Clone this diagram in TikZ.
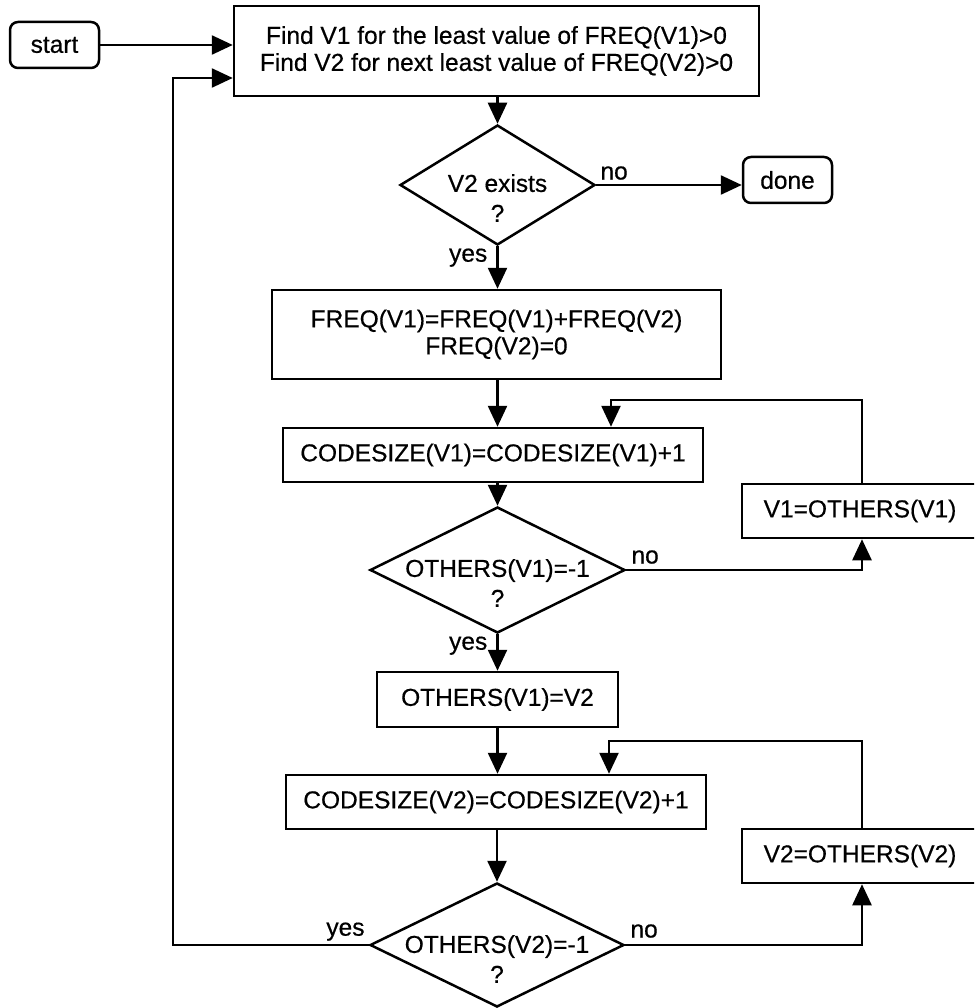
\documentclass[tikz,border=0pt]{standalone}
\usepackage{fontspec}
\setmainfont{Liberation Sans}[FakeBold=0.5]
\usetikzlibrary{arrows.meta,shapes.geometric}
\begin{document}
\begin{tikzpicture}[x=1pt,y=-1pt,
  line width=2.5pt,
  every node/.style={font=\fontsize{24.5}{27}\selectfont},
  box/.style={draw, rectangle, inner sep=0pt, align=center},
  term/.style={draw, rectangle, rounded corners=8pt, inner sep=0pt,
               minimum width=89pt, minimum height=46pt},
  decision/.style={draw, diamond, inner sep=0pt},
  dtext/.style={align=center, inner sep=0pt, font=\fontsize{24.5}{30}\selectfont},
  lbl/.style={inner sep=1pt},
  arr/.style={-{Triangle[length=21pt,width=19pt]}},
]
% page frame
\fill[white] (0,0) rectangle (974,1008);
\useasboundingbox (0,0) rectangle (974,1008);
\clip (0,0) rectangle (974,1008);

% nodes
\node[term] (start) at (54.5,45) {start};
\node[box, minimum width=525pt, minimum height=90pt] (find) at (496.5,51)
  {Find V1 for the least value of FREQ(V1)>0\\Find V2 for next least value of FREQ(V2)>0};
\node[decision, minimum width=195pt, minimum height=120pt] (d1) at (497.5,185) {};
\node[dtext, yshift=-13pt] (d1t) at (d1.center) {V2 exists\\?};
\node[term] (done) at (787.5,180) {done};
\node[box, minimum width=449pt, minimum height=89pt] (freq) at (496.5,334.5)
  {FREQ(V1)=FREQ(V1)+FREQ(V2)\\FREQ(V2)=0};
\node[box, minimum width=420pt, minimum height=54pt] (cs1) at (493,455)
  {CODESIZE(V1)=CODESIZE(V1)+1};
\node[decision, minimum width=255pt, minimum height=126pt] (d2) at (497.5,570) {};
\node[dtext, yshift=-13pt] (d2t) at (d2.center) {OTHERS(V1)=-1\\?};
\node[box, minimum width=236pt, minimum height=54pt] (nx1) at (860,511) {V1=OTHERS(V1)};
\node[box, minimum width=241pt, minimum height=55pt] (ov2) at (497.5,699.5) {OTHERS(V1)=V2};
\node[box, minimum width=420pt, minimum height=54pt] (cs2) at (496,802)
  {CODESIZE(V2)=CODESIZE(V2)+1};
\node[box, minimum width=236pt, minimum height=54pt] (nx2) at (860,856) {V2=OTHERS(V2)};
\node[decision, minimum width=254pt, minimum height=124pt] (d3) at (497,945) {};
\node[dtext, yshift=-14pt] (d3t) at (d3.center) {OTHERS(V2)=-1\\?};

% branch labels
\node[lbl, anchor=south west, xshift=2pt, yshift=3pt] (d1no) at (d1.east) {no};
\node[lbl, anchor=north east, xshift=-8pt] (d1yes) at (d1.south) {yes};
\node[lbl, anchor=south west, xshift=3pt, yshift=4pt] (d2no) at (d2.east) {no};
\node[lbl, anchor=north east, xshift=-8pt] (d2yes) at (d2.south) {yes};
\node[lbl, anchor=south west, xshift=3pt, yshift=5pt] (d3no) at (d3.east) {no};
\node[lbl, anchor=south east, xshift=-2pt, yshift=2pt] (d3yes) at (d3.west) {yes};

% bend points of the loops
\coordinate (l1) at (611,400);
\coordinate (r1) at (862,400);
\coordinate (l2) at (609,741);
\coordinate (r2) at (862,741);
\coordinate (l3) at (173,78);

% connectors
\draw[arr] (start.east) -- (start.east -| find.west);
\draw[arr] (d3.west) -| (l3) -- (l3 -| find.west);
\draw[arr] (find.south -| d1.north) -- (d1.north);
\draw[arr] (d1.east) -- (d1.east -| done.west);
\draw[arr] (d1.south) -- (d1.south |- freq.north);
\draw[arr] (freq.south -| d2.north) -- (d2.north |- cs1.north);
\draw[arr] (cs1.south -| d2.north) -- (d2.north);
\draw[arr] (d2.east) -| (nx1.south -| r1);
\draw[arr] (nx1.north -| r1) -- (r1) -- (l1) -- (l1 |- cs1.north);
\draw[arr] (d2.south) -- (d2.south |- ov2.north);
\draw[arr] (ov2.south) -- (ov2.south |- cs2.north);
\draw[arr] (cs2.south -| d3.north) -- (d3.north);
\draw[arr] (d3.east) -| (nx2.south -| r2);
\draw[arr] (nx2.north -| r2) -- (r2) -- (l2) -- (l2 |- cs2.north);
\end{tikzpicture}
\end{document}
